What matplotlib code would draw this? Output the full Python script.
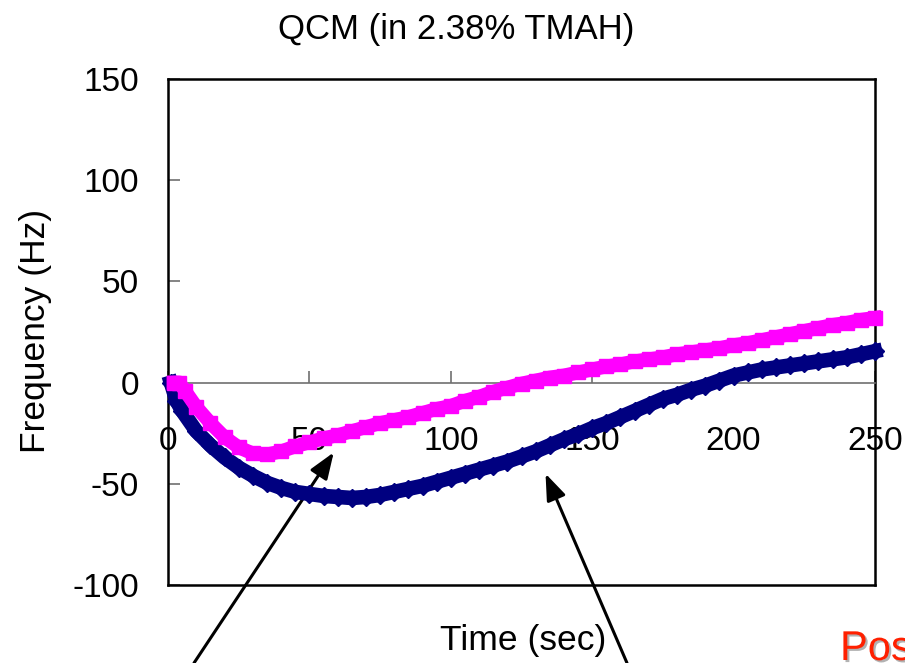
import matplotlib
matplotlib.use('agg')
import matplotlib.pyplot as plt
import matplotlib.patheffects as pe

plt.rcParams['font.family'] = ['Liberation Sans', 'DejaVu Sans']
plt.rcParams['axes.unicode_minus'] = False

# sample times (sec) and frequency shift (Hz)
time_navy = [1, 3, 5, 10, 15, 20, 25, 30, 35, 40, 45, 50, 55, 60, 65, 70, 75, 80,
             85, 90, 95, 100, 105, 110, 115, 120, 125, 130, 135, 140, 145, 150,
             155, 160, 165, 170, 175, 180, 185, 190, 195, 200, 205, 210, 215,
             220, 225, 230, 235, 240, 245, 250]
freq_navy = [0, -9, -14, -24, -31, -37, -42, -46, -49.5, -52, -54, -55, -56,
             -56.5, -57, -56.5, -55.5, -54, -52.5, -51, -49, -47, -45, -43, -41,
             -39, -36.5, -34, -31, -28, -25.5, -22.5, -20, -17, -14, -11,
             -8, -6, -3.5, -1.5, 1, 3.5, 5, 6.5, 7.5, 8.5, 9.5, 10.5, 11.5, 12.5,
             14, 15.5]

time_pink = [2, 4, 6, 10, 15, 20, 25, 30, 35, 40, 45, 50, 55, 60, 65, 70, 75, 80,
             85, 90, 95, 100, 105, 110, 115, 120, 125, 130, 135, 140, 145, 150,
             155, 160, 165, 170, 175, 180, 185, 190, 195, 200, 205, 210, 215,
             220, 225, 230, 235, 240, 245, 250]
freq_pink = [0, 0, -4, -12, -20, -27, -32, -35, -35.5, -34, -31.5, -29.5, -27.5,
             -26, -24, -22, -20, -18.5, -17, -15, -13, -11.5, -9, -7, -4.5, -2.5,
             -0.5, 1, 2.5, 3.5, 5, 6.5, 8, 9, 10.5, 11.5, 12.5, 14, 15, 16, 17,
             18.5, 19.5, 21, 22.5, 24, 25.5, 27, 28.5, 29.5, 31, 32]

x_ticks = [0, 50, 100, 150, 200, 250]
y_ticks = [-100, -50, 0, 50, 100, 150]

fig = plt.figure(figsize=(9.05, 6.63), dpi=100)
ax = fig.add_axes([168 / 905, 78 / 663, 707 / 905, 506 / 663])

navy = '#000080'
pink = '#FF00FF'
ax.plot(time_navy, freq_navy, color=navy, lw=10.5, marker='D', ms=9,
        mec=navy, zorder=4, clip_on=False, solid_joinstyle='round')
ax.plot(time_pink, freq_pink, color=pink, lw=10, marker='s', ms=10.5,
        mec=pink, zorder=5, clip_on=False, solid_joinstyle='round')

ax.set_xlim(0, 250)
ax.set_ylim(-100, 150)
ax.set_xticks(x_ticks)
ax.set_yticks(y_ticks)

# x axis crosses at zero, box bottom drawn separately
ax.spines['bottom'].set_position(('data', 0))
ax.spines['bottom'].set_color('#707070')
ax.spines['bottom'].set_linewidth(1.2)
for side in ['left', 'right', 'top']:
    ax.spines[side].set_linewidth(1.8)
ax.plot([0, 1], [0, 0], transform=ax.transAxes, color='black', lw=1.8,
        clip_on=False, zorder=3)

ax.tick_params(axis='x', direction='in', length=8.5, width=1.2, color='#707070',
               pad=31, labelsize=24)
ax.tick_params(axis='y', direction='in', length=8.5, width=1.2, color='#707070',
               pad=21, labelsize=24)

ax.set_xlabel('Time (sec)', fontsize=25.5, va='center')
ax.xaxis.set_label_coords(0.502, -0.109)
ax.set_ylabel('Frequency (Hz)', fontsize=25.5, va='center')
ax.yaxis.set_label_coords(-0.188, 0.503)

fig.text(0.504, 1 - 30 / 663, 'QCM (in 2.38% TMAH)', ha='center', va='center',
         fontsize=25)

arrow = dict(arrowstyle='-|>,head_length=0.8,head_width=0.3', color='black',
             lw=2.2, mutation_scale=20, shrinkA=0, shrinkB=0)
ax.annotate('', xy=(58.6, -34.5), xycoords='data', xytext=(194, 0),
            textcoords='figure pixels', arrowprops=arrow, annotation_clip=False)
ax.annotate('', xy=(133.5, -45), xycoords='data', xytext=(627, 0),
            textcoords='figure pixels', arrowprops=arrow, annotation_clip=False)

# partly visible red label at the bottom right, cut by the edge as in the source
fig.text(840 / 905, 3 / 663, 'Pos', color='#FF2000', fontsize=30, ha='left',
         va='baseline',
         path_effects=[pe.withSimplePatchShadow(offset=(1.5, -1.5),
                                                shadow_rgbFace='gray', alpha=0.6)])

fig.savefig('out.png', dpi=100)
